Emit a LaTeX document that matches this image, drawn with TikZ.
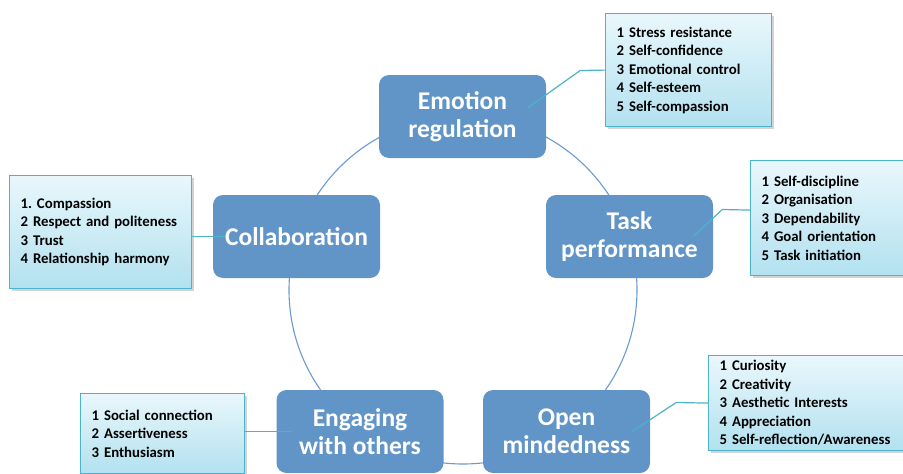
\documentclass[tikz,border=0pt]{standalone}
\usepackage{fontspec}
\setmainfont{Carlito}
\frenchspacing
\usetikzlibrary{positioning,shadows,calc}
\definecolor{traitblue}{HTML}{6195C8}
\definecolor{ringblue}{HTML}{6A9BD0}
\definecolor{calloutedge}{HTML}{4BB3CA}
\definecolor{callouttop}{HTML}{E9F7FC}
\definecolor{calloutbottom}{HTML}{B2E1EF}

\begin{document}
\begin{tikzpicture}[x=1pt, y=-1pt,
    trait/.style={fill=traitblue, rounded corners=10pt, minimum width=167pt, minimum height=83pt,
        text=white, font=\fontsize{25.5}{28}\selectfont\bfseries, align=center, inner sep=0pt},
    callout/.style={draw=calloutedge, line width=1.2pt, top color=callouttop, bottom color=calloutbottom,
        drop shadow={shadow xshift=2pt, shadow yshift=-2pt, opacity=0.35},
        font=\fontsize{14.8}{18.5}\selectfont\bfseries, align=left, inner xsep=11pt, inner ysep=0pt,
        anchor=north west},
    link/.style={calloutedge, line width=1.2pt},
    ring/.style={ringblue, line width=1.1pt}]
    \useasboundingbox (0,0) rectangle (903,474);

    % Ring behind the traits
    \coordinate (hub) at (463,290);
    \draw[ring] (hub) circle[radius=174pt];

    % === Traits ===
    \node[trait] (emo) at (462.5,116.5) {Emotion\\regulation};
    \node[trait] (task) at (629.5,236.5) {Task\\performance};
    \node[trait] (collab) at (296.5,236.5) {Collaboration};
    \node[trait] (engage) at (360,431.5) {Engaging\\with others};
    \node[trait] (open) at (566.5,431.5) {Open\\mindedness};

    % === Facet lists ===
    \node[callout, text width=144pt, minimum height=113pt] (emoinfo) at (605,13)
        {1 Stress resistance\\2 Self-confidence\\3 Emotional control\\4 Self-esteem\\5 Self-compassion};
    \node[callout, text width=160pt, minimum height=113pt] (collabinfo) at (9,175)
        {1. Compassion\\2 Respect and politeness\\3 Trust\\4 Relationship harmony};
    \node[callout, text width=143pt, minimum height=115pt] (taskinfo) at (750,160)
        {1 Self-discipline\\2 Organisation\\3 Dependability\\4 Goal orientation\\5 Task initiation};
    \node[callout, text width=142pt, minimum height=80pt] (engageinfo) at (80,393)
        {1 Social connection\\2 Assertiveness\\3 Enthusiasm};
    \node[callout, text width=175pt, minimum height=95pt] (openinfo) at (708,355)
        {1 Curiosity\\2 Creativity\\3 Aesthetic Interests\\4 Appreciation\\5 Self-reflection/Awareness};

    % Callout connectors
    \draw[link] ([xshift=-18pt,yshift=9pt]emo.east) -- ++(52,-37) -- (emoinfo.west);
    \draw[link] ([xshift=-20pt]task.east) -- ++(29,-27) -- ([yshift=8pt]taskinfo.west);
    \draw[link] ([xshift=-18pt]open.east) -- ++(44,-29) -- (openinfo.west);
    \draw[link] ([xshift=12pt]collab.west) -- (collab.west -| collabinfo.east);
    \draw[link] ([xshift=16pt]engage.west) -- (engage.west -| engageinfo.east);
\end{tikzpicture}
\end{document}
